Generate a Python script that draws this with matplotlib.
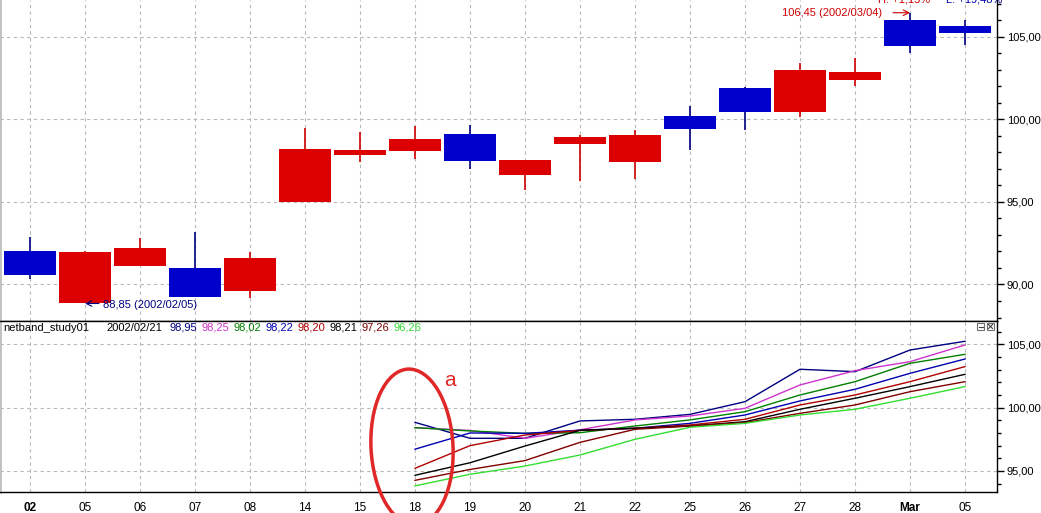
import matplotlib
matplotlib.use("Agg")
import matplotlib.pyplot as plt
from matplotlib.patches import Ellipse, Rectangle
from matplotlib.ticker import FixedLocator, FuncFormatter
import numpy as np

# ---------------- data ----------------
labels = ['02', '05', '06', '07', '08', '14', '15', '18', '19', '20',
          '21', '22', '25', '26', '27', '28', 'Mar', '05']
opens  = [92.05, 88.86, 91.10, 91.00, 89.58, 94.97, 97.86, 98.10, 99.09, 96.65,
          98.48, 97.43, 100.22, 101.91, 100.42, 102.40, 105.99, 105.67]
closes = [90.55, 91.99, 92.23, 89.22, 91.62, 98.22, 98.12, 98.83, 97.49, 97.55,
          98.95, 99.07, 99.43, 100.42, 103.00, 102.84, 104.41, 105.20]
highs  = [92.85, 92.05, 92.79, 93.15, 91.94, 99.47, 99.21, 99.57, 99.63, 97.55,
          99.03, 99.33, 100.82, 101.95, 103.41, 103.71, 106.45, 105.99]
lows   = [90.35, 88.85, 91.10, 89.22, 89.18, 94.97, 97.39, 97.60, 97.01, 95.74,
          96.24, 96.38, 98.16, 99.37, 100.14, 102.03, 104.01, 104.47]

band_start = 7  # bands start at '18'
band_navy    = [98.84, 97.58, 97.58, 98.95, 99.08, 99.47, 100.47, 103.03, 102.84, 104.55, 105.24]
band_magenta = [98.42, 98.20, 97.58, 98.25, 99.03, 99.34, 99.95, 101.79, 102.92, 103.63, 104.95]
band_green   = [98.42, 98.16, 97.97, 98.02, 98.55, 99.03, 99.68, 101.00, 102.05, 103.50, 104.21]
band_blue    = [96.72, 98.00, 97.97, 98.22, 98.37, 98.76, 99.42, 100.53, 101.45, 102.71, 103.84]
band_red     = [95.21, 97.00, 97.84, 98.20, 98.37, 98.63, 99.08, 100.21, 101.00, 102.05, 103.24]
band_black   = [94.66, 95.65, 96.97, 98.21, 98.37, 98.55, 98.89, 99.87, 100.74, 101.66, 102.63]
band_maroon  = [94.26, 95.12, 95.82, 97.26, 98.29, 98.55, 98.82, 99.55, 100.21, 101.26, 102.05]
band_lime    = [93.82, 94.74, 95.39, 96.26, 97.50, 98.45, 98.76, 99.42, 99.87, 100.74, 101.66]

legend_name = 'netband_study01'
legend_date = '2002/02/21'
legend_idx = 10

low_note = '88,85 (2002/02/05)'
high_note = '106,45 (2002/03/04)'
hl_high = 'H: +1,15%'
hl_low = 'L: +19,48%'

# ---------------- style ----------------
plt.rcParams['font.family'] = ['Liberation Sans', 'DejaVu Sans']
FS = 8
UP = '#dd0000'
DOWN = '#0000cc'
UP_WICK = '#cc0000'
DOWN_WICK = '#000080'
GRID = '#b8b8b8'
bands = [
    (band_navy, '#000080'), (band_magenta, '#cc33cc'), (band_green, '#008000'),
    (band_blue, '#0000b0'), (band_red, '#b00000'), (band_black, '#000000'),
    (band_maroon, '#800000'), (band_lime, '#33dd33'),
]

W, H = 1041, 513
fig = plt.figure(figsize=(W / 100, H / 100), dpi=100)
fig.patch.set_facecolor('white')

x_right = 997
top_div = 321
x_axis_y = 492
ax1 = fig.add_axes([0, (H - top_div) / H, x_right / W, top_div / H])
ax2 = fig.add_axes([0, (H - x_axis_y) / H, x_right / W, (x_axis_y - top_div) / H])

n = len(labels)
xs = np.arange(n)
xlim = (-30 / 55, (x_right - 30) / 55)

fmt = FuncFormatter(lambda v, p: f"{v:.2f}".replace('.', ','))


def style_axis(ax, ylim, majors, minor_lo, minor_hi):
    ax.set_xlim(*xlim)
    ax.set_ylim(*ylim)
    ax.yaxis.tick_right()
    ax.yaxis.set_major_locator(FixedLocator(majors))
    ax.yaxis.set_minor_locator(FixedLocator(np.arange(minor_lo, minor_hi + 1)))
    ax.yaxis.set_major_formatter(fmt)
    ax.tick_params(axis='y', which='major', length=5, width=1, pad=2,
                   labelsize=FS, direction='out', colors='black')
    ax.tick_params(axis='y', which='minor', length=3, width=1, direction='out')
    ax.set_xticks(xs)
    for y in majors:
        ax.axhline(y, color=GRID, lw=0.8, ls=(0, (3, 3)), zorder=0)
    for x in xs:
        ax.axvline(x, color=GRID, lw=0.8, ls=(0, (3, 3)), zorder=0)
    ax.spines['left'].set_color('#c0c0c0')
    ax.spines['left'].set_linewidth(2)
    for s in ('right', 'bottom', 'top'):
        ax.spines[s].set_color('black')
        ax.spines[s].set_linewidth(1)


style_axis(ax1, (87.79, 107.22), [90, 95, 100, 105], 88, 107)
ax1.spines['top'].set_visible(False)
ax1.tick_params(axis='x', length=0, labelbottom=False)

style_axis(ax2, (93.34, 106.84), [95, 100, 105], 94, 106)
ax2.set_xticklabels(labels)
ax2.tick_params(axis='x', length=0, pad=7, labelsize=8.5)
for t, lab in zip(ax2.get_xticklabels(), labels):
    if lab in ('02', 'Mar'):
        t.set_fontweight('bold')

# ---------------- candles ----------------
for i in range(n):
    o, c, hi, lo = opens[i], closes[i], highs[i], lows[i]
    up = c >= o
    ax1.vlines(i, lo, hi, color=UP_WICK if up else DOWN_WICK, lw=1.2, zorder=2)
    ax1.bar(i, abs(c - o), bottom=min(o, c), width=0.96,
            color=UP if up else DOWN, zorder=3, linewidth=0)

# annotations on candles
lo_i = int(np.argmin(lows))
hi_i = int(np.argmax(highs))
ax1.annotate('', xy=(lo_i, lows[lo_i]), xytext=(14, 0), textcoords='offset pixels',
             arrowprops=dict(arrowstyle='->', color='#000080', lw=0.8,
                             shrinkA=0, shrinkB=0), zorder=5)
ax1.annotate(low_note, xy=(lo_i, lows[lo_i]), xytext=(18, -2), textcoords='offset pixels',
             ha='left', va='center', fontsize=FS, color='#000080', zorder=5)
ax1.annotate('', xy=(hi_i, highs[hi_i]), xytext=(-17, 0), textcoords='offset pixels',
             arrowprops=dict(arrowstyle='->', color='#cc0000', lw=0.8,
                             shrinkA=0, shrinkB=0), zorder=5)
ax1.annotate(high_note, xy=(hi_i, highs[hi_i]), xytext=(-28, 0), textcoords='offset pixels',
             ha='right', va='center', fontsize=FS, color='#cc0000', zorder=5)

# ---------------- bands ----------------
bx = np.arange(band_start, band_start + len(band_navy))
for vals, col in bands:
    ax2.plot(bx, vals, color=col, lw=1.0, zorder=3)

# ---------------- overlay (pixel coords) ----------------
ov = fig.add_axes([0, 0, 1, 1], zorder=10)
ov.set_xlim(0, W)
ov.set_ylim(H, 0)
ov.axis('off')
ov.patch.set_alpha(0)

# legend line of bottom panel
ly = 328
ov.text(3, ly, legend_name, fontsize=FS, color='black', ha='left', va='center')
ov.text(106, ly, legend_date, fontsize=FS, color='black', ha='left', va='center')
for k, (vals, col) in enumerate(bands):
    v = vals[legend_idx - band_start]
    ov.text(169 + 32.0 * k, ly, f"{v:.2f}".replace('.', ','), fontsize=FS,
            color=col, ha='left', va='center')

# cut-off H/L text at top
ov.text(878, 4, hl_high, fontsize=FS, color='#cc0000', ha='left', va='bottom')
ov.text(946, 4, hl_low, fontsize=FS, color='#0000aa', ha='left', va='bottom')

# panel buttons
for bx0, glyph in ((977, 'min'), (987, 'x')):
    ov.add_patch(Rectangle((bx0, 323), 7, 7, fill=False, ec='#707070', lw=0.8))
    if glyph == 'min':
        ov.plot([bx0 + 1.5, bx0 + 5.5], [326.5, 326.5], color='#404040', lw=0.8)
    else:
        ov.plot([bx0 + 1.5, bx0 + 5.5], [324.5, 328.5], color='#404040', lw=0.8)
        ov.plot([bx0 + 1.5, bx0 + 5.5], [328.5, 324.5], color='#404040', lw=0.8)

# red ellipse marker and label
ov.add_patch(Ellipse((412, 447), 82, 156, angle=-3, fill=False, ec='#e02828', lw=2.5))
ov.text(450, 381, 'a', fontsize=15, color='#e02828', ha='center', va='center')

fig.savefig('out.png', dpi=100, facecolor='white')
